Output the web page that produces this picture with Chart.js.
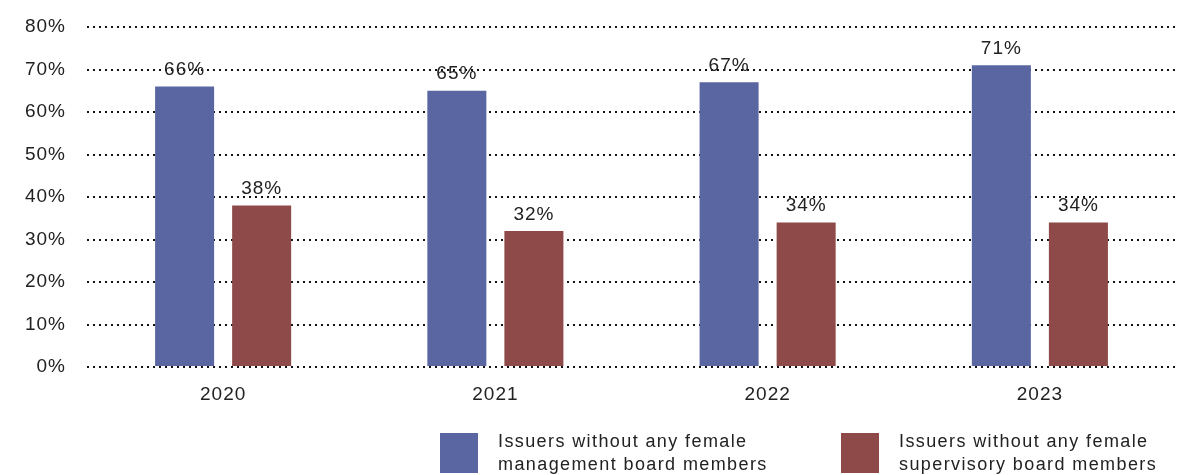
<!DOCTYPE html>
<html>
<head>
<meta charset="utf-8">
<script src="https://cdn.jsdelivr.net/npm/chart.js@4"></script>
<style>
    body { margin: 0; background: #fff; }
    #wrap { position: relative; width: 1179px; height: 475px; overflow: hidden; }
    #chart { position: absolute; left: 0; top: 0; }
    .legend-item { position: absolute; top: 433px; display: flex; align-items: flex-start; }
    .legend-box { width: 38px; height: 40px; margin-right: 20px; }
    .legend-text { font: 18px "Liberation Sans", Arial, sans-serif; color: #222; line-height: 23px; letter-spacing: 1.4px; margin-top: -3px; }
</style>
</head>
<body>
<div id="wrap">
    <canvas id="chart" width="1179" height="475"></canvas>
    <div class="legend-item" style="left:440px">
        <div class="legend-box" style="background:#5a66a1"></div>
        <div class="legend-text">Issuers without any female<br>management board members</div>
    </div>
    <div class="legend-item" style="left:841px">
        <div class="legend-box" style="background:#8e4a49"></div>
        <div class="legend-text">Issuers without any female<br>supervisory board members</div>
    </div>
</div>
<script>
// Chart data
const years = ['2020', '2021', '2022', '2023'];
const managementValues = [66, 65, 67, 71];
const supervisoryValues = [38, 32, 34, 34];
const yTicks = [0, 10, 20, 30, 40, 50, 60, 70, 80];

const blue = '#5a66a1';
const red = '#8e4a49';
const textColor = '#222';
const font = { family: '"Liberation Sans", Arial, sans-serif', size: 19 };

// Small plugin to put the value above each bar
const valueLabels = {
    id: 'valueLabels',
    afterDatasetsDraw(chart) {
        const ctx = chart.ctx;
        ctx.save();
        ctx.font = font.size + 'px ' + font.family;
        ctx.fillStyle = textColor;
        ctx.textAlign = 'center';
        ctx.textBaseline = 'bottom';
        chart.data.datasets.forEach(function(ds, i) {
            chart.getDatasetMeta(i).data.forEach(function(bar, j) {
                ctx.fillText(ds.data[j] + '%', bar.x, bar.y - 7);
            });
        });
        ctx.restore();
    }
};

// Letter spacing for canvas text (source font is a little wider)
const spacing = {
    id: 'spacing',
    beforeInit(chart) { chart.ctx.letterSpacing = '1px'; },
    beforeDraw(chart) { chart.ctx.letterSpacing = '1px'; }
};

new Chart(document.getElementById('chart').getContext('2d'), {
    type: 'bar',
    data: {
        labels: years,
        datasets: [{
            label: 'Issuers without any female management board members',
            data: managementValues,
            backgroundColor: blue
        }, {
            label: 'Issuers without any female supervisory board members',
            data: supervisoryValues,
            backgroundColor: red
        }]
    },
    options: {
        responsive: false,
        animation: false,
        categoryPercentage: 0.566,
        barPercentage: 0.766,
        layout: { padding: { top: 27, right: 3, left: 0, bottom: 0 } },
        scales: {
            x: {
                grid: { display: false },
                border: { display: false },
                ticks: { color: textColor, font: font, padding: 8 },
                afterFit: function(scale) { scale.height = 108; }
            },
            y: {
                min: 0,
                max: 80,
                afterBuildTicks: function(scale) {
                    scale.ticks = yTicks.map(function(v) { return { value: v }; });
                },
                grid: { color: '#111', lineWidth: 2, drawTicks: false },
                border: { display: false, dash: [2, 4] },
                ticks: {
                    color: textColor,
                    font: font,
                    padding: 21,
                    callback: function(v) { return v + '%'; }
                },
                afterFit: function(scale) {
                    scale.width = 87;
                    scale.paddingTop = 0;
                    scale.paddingBottom = 0;
                }
            }
        },
        plugins: {
            legend: { display: false },
            tooltip: { enabled: false }
        }
    },
    plugins: [spacing, valueLabels]
});
</script>
</body>
</html>
